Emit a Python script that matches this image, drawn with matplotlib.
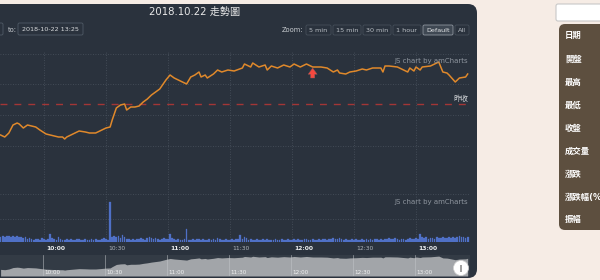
import matplotlib
matplotlib.use('Agg')
import matplotlib.pyplot as plt
from matplotlib.patches import FancyBboxPatch, Circle, Rectangle
import numpy as np

plt.rcParams['font.family'] = ['DejaVu Sans', 'Noto Sans CJK TC']

# ---------------- data ----------------
title = '2018.10.22 走勢圖'
range_to = '2018-10-22 13:25'
zoom_buttons = ['5 min', '15 min', '30 min', '1 hour', 'Default', 'All']
active_button = 'Default'
side_labels = ['日期', '開盤', '最高', '最低', '收盤', '成交量', '漲跌', '漲跌幅(%)', '振幅']
ref_label = '昨收'
prev_close = 46

# minutes after 09:00
price_minute = [39, 41, 43, 45, 47, 48, 50, 52, 54, 56, 58, 61, 63, 65, 67, 69, 70, 71, 73, 75,
                77, 80, 82, 85, 87, 90, 92, 93, 95, 97, 99, 100, 102, 104, 106, 108, 110, 112, 114, 116,
                119, 121, 123, 127, 129, 131, 133, 135, 136, 138, 139, 142, 144, 146, 149, 152, 156, 157, 160, 161,
                164, 167, 168, 170, 173, 176, 179, 181, 184, 187, 190, 194, 197, 200, 202, 203, 206, 208, 211, 214,
                216, 219, 223, 224, 225, 227, 231, 234, 236, 237, 239, 240, 242, 243, 247, 249, 251, 253, 255, 256,
                259, 261, 264, 265]
price_value = [15, 13, 17, 25, 27, 26, 22, 25, 24, 23, 20, 16, 15, 14, 13, 13, 11, 13, 15, 17,
               19, 18, 17, 17, 19, 22, 23, 30, 42, 45, 46, 40, 43, 43, 44, 48, 51, 55, 58, 61,
               70, 75, 72, 68, 66, 73, 75, 78, 73, 75, 72, 76, 80, 78, 80, 79, 82, 86, 83, 87,
               83, 85, 80, 84, 82, 85, 83, 86, 83, 86, 83, 83, 82, 78, 80, 77, 76, 78, 79, 81,
               80, 82, 82, 78, 84, 84, 83, 80, 78, 82, 79, 83, 80, 83, 84, 86, 88, 78, 77, 75,
               68, 72, 73, 76]

volume_start_minute = 39
volume_value = (
    [5, 6, 5, 6, 6, 5, 6, 5, 6, 5, 5, 4, 5] +
    [3, 4, 3, 2, 3, 3, 2, 4, 3, 2, 3] + [8] + [4, 3, 2] + [5] +
    [3, 2, 2, 3, 2, 3, 2, 2, 3, 3, 2, 2, 3, 2, 2, 3, 2, 3, 2, 2, 3, 4, 3, 2] +
    [40] + [5, 6, 5, 6, 4] + [7] +
    [5, 3, 3, 2, 3, 2, 3, 3, 4, 3, 2, 4] + [5] +
    [4, 3, 4, 3, 2, 3, 4, 3, 3] + [8] +
    [4, 3, 2, 3, 2, 2, 3] + [13] +
    [2, 2, 3, 2, 3, 3, 2, 3, 2, 2, 3, 2, 3, 2, 4, 3, 2, 2, 3, 2, 2, 3, 2, 3, 3] +
    [7] + [3, 5] + [4] +
    [2, 3, 2, 2, 3, 2, 2, 3, 2, 3, 2, 2, 2, 3, 2, 2, 3, 2, 2, 3] +
    [2, 2, 3, 2, 3, 2, 2, 3, 3, 2, 2, 3, 2, 2, 3, 2, 3, 3, 2, 3] +
    [3, 4, 3, 3, 4, 3, 2, 3, 2, 2, 3, 2, 3, 2, 2, 3, 2, 3, 2, 3] +
    [2, 3, 3, 2, 3, 2, 3, 3, 4, 3, 3, 4, 3, 2, 3, 3, 2, 3, 4, 3, 3, 4, 3] +
    [8] +
    [5, 4, 5, 3, 4, 4, 3, 5, 4, 4, 5, 4, 4, 5, 4, 5, 4, 5, 6, 5, 5, 4, 5]
)

tick_minutes = [60, 90, 120, 150, 180, 210, 240]
tick_labels = ['10:00', '10:30', '11:00', '11:30', '12:00', '12:30', '13:00']
event_minute = 190
event_price = 83

# ---------------- style / layout ----------------
W, H = 600, 280
WOOD = '#f6ece5'
PANEL = '#2a323d'
GRID = '#4a535f'
LINE = '#e0892b'
BAR = '#4f70c6'
BROWN = '#5d4f3f'
XLIM = (38.71, 266.13)


def rect(x0, y0, x1, y1):
    return [x0 / W, 1 - y1 / H, (x1 - x0) / W, (y1 - y0) / H]


fig = plt.figure(figsize=(6, 2.8), dpi=100)
fig.patch.set_facecolor(WOOD)

bg = fig.add_axes([0, 0, 1, 1], zorder=0)
bg.set_xlim(0, W)
bg.set_ylim(H, 0)
bg.axis('off')

# dark chart panel
bg.add_patch(FancyBboxPatch((-20, 4), 497, 274, boxstyle='round,pad=0,rounding_size=9',
                            fc=PANEL, ec='none'))
# title
bg.text(195, 12, title, color='#e8e8e8', fontsize=7.3, ha='center', va='center')
# date range inputs
bg.add_patch(FancyBboxPatch((-30, 23), 33, 12, boxstyle='round,pad=0,rounding_size=1.5',
                            fc=PANEL, ec='#505a66', lw=0.6))
bg.text(8, 29.5, 'to:', color='#c8ccd0', fontsize=4.8, ha='left', va='center')
bg.add_patch(FancyBboxPatch((18, 23), 65, 12, boxstyle='round,pad=0,rounding_size=1.5',
                            fc=PANEL, ec='#505a66', lw=0.6))
bg.text(50.5, 29.5, range_to, color='#d8dadc', fontsize=4.6, ha='center', va='center')
# zoom buttons
bg.text(303, 30, 'Zoom:', color='#c8ccd0', fontsize=4.8, ha='right', va='center')
button_x = [(306, 331), (333, 361), (363, 391), (393, 421), (423, 453), (455, 469)]
for (x0, x1), lab in zip(button_x, zoom_buttons):
    active = lab == active_button
    bg.add_patch(FancyBboxPatch((x0, 25), x1 - x0, 10, boxstyle='round,pad=0,rounding_size=1.5',
                                fc='#3f4853' if active else PANEL,
                                ec='#8e959e' if active else '#454e59', lw=0.6))
    bg.text((x0 + x1) / 2, 30, lab, color='#e4e6e8' if active else '#b9bec4',
            fontsize=4.6, ha='center', va='center')

# right side widgets
bg.add_patch(FancyBboxPatch((556, 4), 60, 17, boxstyle='round,pad=0,rounding_size=2',
                            fc='white', ec='#c8c8c8', lw=0.8))
bg.add_patch(FancyBboxPatch((559, 24), 60, 206, boxstyle='round,pad=0,rounding_size=6',
                            fc=BROWN, ec='none'))
side_y = [35, 59, 82, 105, 128, 151, 174, 197, 219]
for yy, lab in zip(side_y, side_labels):
    bg.text(565, yy, lab, color='white', fontsize=6, fontweight='bold', ha='left', va='center')

# ---------------- price panel ----------------
axp = fig.add_axes(rect(0, 52, 470, 148), zorder=1)
axp.patch.set_alpha(0)
axp.set_xlim(*XLIM)
axp.set_ylim(2, 98)
for s in axp.spines.values():
    s.set_visible(False)
axp.set_xticks(tick_minutes)
axp.set_yticks([4, 35, 66, 96])
axp.tick_params(length=0, labelbottom=False, labelleft=False)
axp.grid(True, color=GRID, lw=0.6, ls=(0, (1, 2)))
axp.axhline(prev_close, color='#a33636', lw=1.0, ls=(0, (5, 5)))
axp.plot(price_minute, price_value, color=LINE, lw=1.1, solid_joinstyle='round')
axp.annotate('', xy=(event_minute, event_price - 1), xytext=(event_minute, event_price - 11),
             arrowprops=dict(arrowstyle='simple,head_width=1.3,head_length=0.9,tail_width=0.6',
                             fc='#f5483f', ec='#8a5a5a', lw=0.3, mutation_scale=5,
                             shrinkA=0, shrinkB=0))
axp.text(XLIM[1] - 1, prev_close + 1.5, ref_label, color='#d0d3d6', fontsize=5.4,
         ha='right', va='bottom')
axp.text(XLIM[1] - 1, 89.5, 'JS chart by amCharts', color='#8e959e', fontsize=5,
         ha='right', va='center')

# ---------------- volume panel ----------------
axv = fig.add_axes(rect(0, 148, 470, 242), zorder=1)
axv.patch.set_alpha(0)
axv.set_xlim(*XLIM)
axv.set_ylim(0, 94)
for s in axv.spines.values():
    s.set_visible(False)
vol_minute = np.arange(volume_start_minute, volume_start_minute + len(volume_value))
axv.bar(vol_minute, volume_value, width=0.85, color=BAR, edgecolor=BAR, lw=0.2)
axv.set_xticks(tick_minutes)
axv.set_yticks([23, 48])
axv.tick_params(length=0, labelbottom=False, labelleft=False)
axv.grid(True, color=GRID, lw=0.6, ls=(0, (1, 2)))
axv.set_axisbelow(True)
axv.text(XLIM[1] - 1, 40, 'JS chart by amCharts', color='#8e959e', fontsize=5,
         ha='right', va='center')
for m, lab in zip(tick_minutes, tick_labels):
    bold = lab.endswith(':00')
    axv.annotate(lab, xy=(m, 0), xycoords=('data', 'axes fraction'), xytext=(1.4, -3.2),
                 textcoords='offset points', ha='left', va='top', fontsize=4.3,
                 fontweight='bold' if bold else 'normal',
                 color='#eceeef' if bold else '#aeb4bb')

# ---------------- navigator ----------------
axn = fig.add_axes(rect(0, 255, 470, 276), zorder=1)
axn.set_facecolor('#333b45')
axn.set_xlim(*XLIM)
axn.set_ylim(-21.5, 94)
for s in axn.spines.values():
    s.set_visible(False)
axn.set_xticks([])
axn.set_yticks([])
axn.fill_between(price_minute, price_value, -21.5, color='#a2a5a9', lw=0)
for m, lab in zip(tick_minutes, tick_labels):
    axn.axvline(m - 0.5, color='#c4c7ca', lw=0.5, alpha=0.7)
    axn.annotate(lab, xy=(m - 0.5, 0), xycoords=('data', 'axes fraction'), xytext=(0.8, 0.8),
                 textcoords='offset points', ha='left', va='bottom', fontsize=4.1,
                 color='#f2f2f2')

# overlay: navigator handle
top = fig.add_axes([0, 0, 1, 1], zorder=3)
top.set_xlim(0, W)
top.set_ylim(H, 0)
top.axis('off')
top.add_patch(Circle((461, 268), 7.5, fc='white', ec='#d0d0d0', lw=0.5))
top.add_patch(Rectangle((460.2, 264.5), 1.6, 7, fc='#a0a0a0', ec='none'))

fig.savefig('out.png', dpi=100, facecolor=WOOD)
